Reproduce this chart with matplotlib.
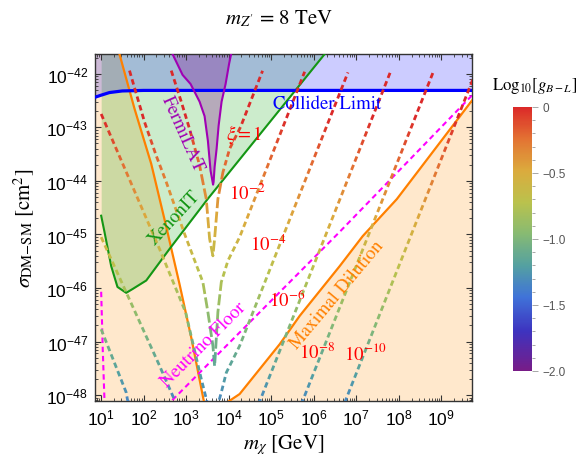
import numpy as np
import matplotlib.pyplot as plt
from matplotlib.collections import LineCollection
from matplotlib.colors import LinearSegmentedColormap, Normalize
from matplotlib.cm import ScalarMappable
from matplotlib.ticker import FixedLocator, NullFormatter, FuncFormatter

# ================================================================
# Data (log10 values)
# ================================================================

# x = log10(m_chi / GeV), y = log10(sigma / cm^2)
COLLIDER_LOGM = [0.85, 1.0, 1.2, 1.5, 2.0, 9.8]
COLLIDER_LOGSIG = [-42.44, -42.40, -42.35, -42.32, -42.31, -42.31]

XENON_LOGM = [1.005, 1.082, 1.24, 1.388, 1.593, 1.741, 2.064, 2.612, 3.506, 6.259, 6.6]
XENON_LOGSIG = [-44.65, -44.95, -45.59, -45.98, -46.09, -46.02, -45.86, -45.27, -44.34, -41.63, -41.29]

DILUTION_LOGM = [0.85, 1.2, 1.435, 1.788, 2.181, 2.518, 2.847, 3.129, 3.412, 3.6, 3.8,
                 3.976, 4.259, 5.2, 5.671, 6.612, 7.153, 7.953, 9.718, 9.8]
DILUTION_LOGSIG = [-39.9, -40.9, -41.63, -42.65, -43.68, -44.80, -45.93, -46.95, -48.09, -48.6, -48.5,
                   -48.13, -47.98, -47.05, -46.52, -45.59, -45.03, -44.34, -42.50, -42.42]

FERMI_LOGM = [2.52, 2.682, 2.918, 3.106, 3.318, 3.435, 3.513, 3.576, 3.635, 3.647,
              3.671, 3.718, 3.765, 3.835, 3.929, 4.012, 4.059, 4.094]
FERMI_LOGSIG = [-41.35, -41.63, -42.02, -42.19, -42.52, -42.79, -43.25, -43.81, -44.07, -44.02,
                -43.74, -43.40, -42.97, -42.52, -42.19, -41.81, -41.63, -41.44]

NU_LOGM = [1.005, 1.042, 1.082, 1.3, 2.0, 2.682, 6.612, 9.711, 9.8]
NU_LOGSIG = [-46.07, -47.14, -48.09, -48.7, -48.8, -48.09, -44.95, -42.41, -42.34]

# constant-xi curves
XI0_LOGM = [2.652, 2.887, 3.082, 3.318, 3.475, 3.553, 3.631, 3.671, 3.748, 3.866, 4.024, 4.282, 4.800]
XI0_LOGSIG = [-41.94, -42.52, -43.03, -43.71, -44.34, -45.08, -45.40, -45.08, -44.34, -43.84, -43.40, -42.99, -41.94]

XI2_LOGM = [1.671, 2.024, 2.299, 2.534, 2.965, 3.395, 3.513, 3.631, 3.671, 3.748, 3.828, 3.984, 4.259, 5.788]
XI2_LOGSIG = [-41.94, -42.90, -43.53, -44.02, -44.99, -45.89, -46.45, -47.08, -47.46, -46.45, -45.89, -45.49, -45.05, -41.96]

XI4_LOGM = [1.005, 2.376, 2.988, 3.358, 3.482, 3.6, 3.828, 3.946, 4.259, 6.807]
XI4_LOGSIG = [-42.75, -45.27, -46.45, -47.70, -48.09, -48.6, -47.95, -47.58, -47.08, -41.97]

XI6_LOGM = [1.005, 2.376, 2.729, 3.6, 4.744, 7.805]
XI6_LOGSIG = [-45.05, -47.45, -48.09, -50.0, -48.09, -41.96]

XI8_LOGM = [1.005, 1.593, 1.624, 3.6, 5.748, 8.807]
XI8_LOGSIG = [-46.77, -47.95, -48.09, -51.0, -48.09, -41.97]

XI10_LOGM = [6.65, 6.753, 9.812]
XI10_LOGSIG = [-48.3, -48.09, -41.96]

XI_LABELS = [r"$\xi = 1$", r"$10^{-2}$", r"$10^{-4}$", r"$10^{-6}$", r"$10^{-8}$", r"$10^{-10}$"]
XI_LABEL_LOGM = [4.353, 4.447, 4.918, 5.365, 6.071, 7.224]
XI_LABEL_LOGSIG = [-43.12, -44.22, -45.18, -46.21, -47.20, -47.20]

CBAR_TICKS = [0, -0.5, -1.0, -1.5, -2.0]
CBAR_TICKLABELS = ["0", "\u22120.5", "\u22121.0", "\u22121.5", "\u22122.0"]

# ================================================================
# Style
# ================================================================

plt.rcParams["font.family"] = "Liberation Sans"
plt.rcParams["mathtext.fontset"] = "stix"
SERIF = "STIXGeneral"

RAINBOW = LinearSegmentedColormap.from_list(
    "mma_rainbow",
    [
        (0.00, (0.47, 0.11, 0.53)),
        (0.15, (0.24, 0.20, 0.75)),
        (0.28, (0.25, 0.45, 0.85)),
        (0.40, (0.33, 0.63, 0.63)),
        (0.52, (0.53, 0.73, 0.45)),
        (0.64, (0.73, 0.76, 0.30)),
        (0.76, (0.86, 0.67, 0.24)),
        (0.88, (0.89, 0.45, 0.20)),
        (1.00, (0.86, 0.16, 0.16)),
    ],
)
NORM = Normalize(vmin=-2.0, vmax=0.0)

ORANGE = "#ff8000"
GREEN = "#149614"
BLUE = "#0000ff"
PURPLE = "#a000b4"
MAGENTA = "#ff00ff"
RED = "#ff0000"


def p(logs):
    return 10.0 ** np.asarray(logs, dtype=float)


def gradient_dashes(ax, logm, logsig, on_short=5.5, on_long=11.0, gap=3.5, lw=2.0):
    """Dashed line, each dash coloured by log10(g) ~ (log sigma + 42.8)/4."""
    pts = ax.transData.transform(np.column_stack([p(logm), p(logsig)]))
    seg_len = np.hypot(*np.diff(pts, axis=0).T)
    s = np.concatenate([[0.0], np.cumsum(seg_len)])
    step = 0.25
    ss = np.arange(0.0, s[-1], step)
    px = np.interp(ss, s, pts[:, 0])
    py = np.interp(ss, s, pts[:, 1])
    steep = np.abs(np.gradient(py)) / np.maximum(np.abs(np.gradient(px)), 1e-6)
    inv = ax.transData.inverted()
    segs, vals = [], []
    start = 0.0
    while start < s[-1]:
        i = min(int(start / step), len(ss) - 1)
        on = on_long if steep[i] > 5 else on_short
        mask = (ss >= start) & (ss <= start + on)
        if mask.sum() >= 2:
            d = inv.transform(np.column_stack([px[mask], py[mask]]))
            segs.append(d)
            vals.append(np.log10(d[:, 1]).mean())
        start += on + gap
    logg = np.clip((np.array(vals) + 42.8) / 4.0, -2.0, 0.0)
    lc = LineCollection(segs, colors=RAINBOW(NORM(logg)), linewidths=lw, capstyle="butt", zorder=4)
    ax.add_collection(lc)


# ================================================================
# Figure
# ================================================================

fig = plt.figure(figsize=(5.85, 4.64), dpi=100)
ax = fig.add_axes([95 / 585, 1 - 402 / 464, 377 / 585, 347 / 464])
ax.set_xscale("log")
ax.set_yscale("log")
xlo, xhi = 10 ** 0.86, 10 ** 9.72
ylo, yhi = 10 ** -48.11, 10 ** -41.63
ax.set_xlim(xlo, xhi)
ax.set_ylim(ylo, yhi)

# --- shaded regions ---
dm = np.linspace(0.86, 9.72, 600)
dil = np.interp(dm, DILUTION_LOGM, DILUTION_LOGSIG)
ax.fill_between(p(dm), ylo, p(dil), color=(1.0, 0.55, 0.0), alpha=0.2, lw=0, zorder=1)

xm = np.linspace(1.005, 6.6, 600)
xe = np.interp(xm, XENON_LOGM, XENON_LOGSIG)
ax.fill_between(p(xm), p(xe), yhi * 10, color=(0.0, 0.63, 0.0), alpha=0.2, lw=0, zorder=1)

cm_ = np.linspace(0.85, 9.8, 300)
co = np.interp(cm_, COLLIDER_LOGM, COLLIDER_LOGSIG)
ax.fill_between(p(cm_), p(co), yhi * 10, color=(0.0, 0.0, 1.0), alpha=0.2, lw=0, zorder=1)

ax.fill(p(FERMI_LOGM), p(FERMI_LOGSIG), color=(0.5, 0.0, 0.55), alpha=0.28, lw=0, zorder=1)

# --- boundary lines ---
ax.plot(p(DILUTION_LOGM), p(DILUTION_LOGSIG), color=ORANGE, lw=1.6, zorder=3)
ax.plot(p(XENON_LOGM), p(XENON_LOGSIG), color=GREEN, lw=1.5, zorder=3)
ax.plot(p(COLLIDER_LOGM), p(COLLIDER_LOGSIG), color=BLUE, lw=2.3, zorder=3)
ax.plot(p(FERMI_LOGM), p(FERMI_LOGSIG), color=PURPLE, lw=1.5, zorder=3)
ax.plot(p(NU_LOGM), p(NU_LOGSIG), color=MAGENTA, lw=1.5, dashes=(2.6, 1.8), zorder=3)

# --- constant-xi curves ---
for lm, ls in [(XI0_LOGM, XI0_LOGSIG), (XI2_LOGM, XI2_LOGSIG), (XI4_LOGM, XI4_LOGSIG),
               (XI6_LOGM, XI6_LOGSIG), (XI8_LOGM, XI8_LOGSIG), (XI10_LOGM, XI10_LOGSIG)]:
    gradient_dashes(ax, lm, ls)

# --- labels inside the plot ---
for lab, lm, ls in zip(XI_LABELS, XI_LABEL_LOGM, XI_LABEL_LOGSIG):
    ax.text(p(lm), p(ls), lab, color=RED, fontsize=13.5, ha="center", va="center", zorder=6)

ax.text(p(6.306), p(-42.56), "Collider Limit", color=BLUE, fontsize=13.5, family=SERIF,
        ha="center", va="center", zorder=6)
ax.text(p(2.918), p(-43.12), "FermiLAT", color=PURPLE, fontsize=13.5, family=SERIF,
        rotation=-66, ha="center", va="center", zorder=6)
ax.text(p(2.729), p(-44.67), "XenonIT", color=GREEN, fontsize=13.5, family=SERIF,
        rotation=47, ha="center", va="center", zorder=6)
ax.text(p(3.412), p(-47.05), "Neutrino Floor", color=MAGENTA, fontsize=13.5, family=SERIF,
        rotation=45, ha="center", va="center", zorder=6)
ax.text(p(6.541), p(-46.11), "Maximal Dilution", color=ORANGE, fontsize=13.5, family=SERIF,
        rotation=50, ha="center", va="center", zorder=6)

# --- axes styling ---
ax.xaxis.set_major_locator(FixedLocator(p(range(1, 10))))
ax.yaxis.set_major_locator(FixedLocator(p(range(-48, -41))))
ax.xaxis.set_minor_locator(FixedLocator([k * 10.0 ** e for e in range(0, 10) for k in range(2, 10)]))
ax.yaxis.set_minor_locator(FixedLocator([k * 10.0 ** e for e in range(-49, -41) for k in range(2, 10)]))
fmt = FuncFormatter(lambda v, pos: r"$\mathregular{10^{%d}}$" % round(np.log10(v)))
ax.xaxis.set_major_formatter(fmt)
ax.yaxis.set_major_formatter(fmt)
ax.xaxis.set_minor_formatter(NullFormatter())
ax.yaxis.set_minor_formatter(NullFormatter())
ax.tick_params(which="both", direction="in", top=True, right=True, color="#333333", labelsize=12.5)
ax.tick_params(which="major", length=4.5, width=0.8, pad=5)
ax.tick_params(which="minor", length=2.3, width=0.6)
for sp in ax.spines.values():
    sp.set_color("#333333")
    sp.set_linewidth(1.0)

fig.text(279 / 585, 1 - 19 / 464, r"$m_{Z'}$ = 8 TeV", family=SERIF, fontsize=15, ha="center", va="center")
fig.text(284 / 585, 1 - 445 / 464, r"$m_\chi$ [GeV]", family=SERIF, fontsize=15, ha="center", va="center")
fig.text(24 / 585, 1 - 228 / 464, r"$\sigma_{\rm DM{-}SM}$ [cm$^2$]", family=SERIF, fontsize=15,
         rotation=90, ha="center", va="center")

# --- colour bar ---
cax = fig.add_axes([513 / 585, 1 - 372 / 464, 19 / 585, 264 / 464])
cb = fig.colorbar(ScalarMappable(norm=NORM, cmap=RAINBOW), cax=cax)
cb.outline.set_visible(False)
cb.set_ticks(CBAR_TICKS)
cb.set_ticklabels(CBAR_TICKLABELS)
cax.yaxis.set_minor_locator(FixedLocator(np.arange(-2.0, 0.01, 0.1)))
cax.tick_params(which="both", color="#999999", labelcolor="#555555", labelsize=8.5, width=0.6)
cax.tick_params(which="major", length=4)
cax.tick_params(which="minor", length=2.5)
fig.text(535 / 585, 1 - 86 / 464, r"Log$_{10}$[$g_{B-L}$]", family=SERIF, fontsize=12,
         ha="center", va="center")

fig.savefig("out.png", dpi=100)
